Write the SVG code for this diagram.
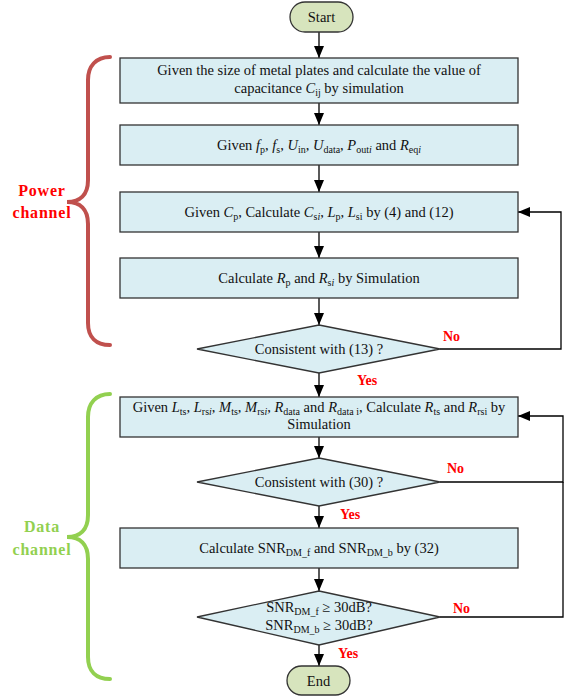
<svg xmlns="http://www.w3.org/2000/svg" width="565" height="696" viewBox="0 0 565 696">
<style>
.box{fill:#DAEEF3;stroke:#333;stroke-width:1.3}
.term{fill:#D7E4BD;stroke:#333;stroke-width:1.3}
.t{font-family:"Liberation Serif","Times New Roman",serif;font-size:14.5px;fill:#111;text-anchor:middle}
.s{font-size:10px}
.i{font-style:italic}
.lab{font-family:"Liberation Serif","Times New Roman",serif;font-size:14px;font-weight:bold;fill:#FF0000}
.ch{font-family:"Liberation Serif","Times New Roman",serif;font-size:16px;font-weight:bold;text-anchor:middle;letter-spacing:0.8px}
.conn{fill:none;stroke:#000;stroke-width:1.3}
</style>
<defs>
<marker id="ah" viewBox="0 0 12 10" refX="12" refY="5" markerWidth="12" markerHeight="10" markerUnits="userSpaceOnUse" orient="auto">
<path d="M0,0 L12,5 L0,10 z" fill="#000"/>
</marker>
</defs>

<g id="connectors">
<line class="conn" x1="319" y1="32" x2="319" y2="58" marker-end="url(#ah)"/>
<line class="conn" x1="319" y1="103" x2="319" y2="125" marker-end="url(#ah)"/>
<line class="conn" x1="319" y1="165" x2="319" y2="192" marker-end="url(#ah)"/>
<line class="conn" x1="319" y1="232" x2="319" y2="258" marker-end="url(#ah)"/>
<line class="conn" x1="319" y1="298" x2="319" y2="325" marker-end="url(#ah)"/>
<line class="conn" x1="319" y1="373" x2="319" y2="397" marker-end="url(#ah)"/>
<line class="conn" x1="319" y1="437" x2="319" y2="458" marker-end="url(#ah)"/>
<line class="conn" x1="319" y1="506" x2="319" y2="528" marker-end="url(#ah)"/>
<line class="conn" x1="319" y1="568" x2="319" y2="591" marker-end="url(#ah)"/>
<line class="conn" x1="319" y1="645" x2="319" y2="666" marker-end="url(#ah)"/>
<path class="conn" d="M440,349 H561 V212 H518" marker-end="url(#ah)"/>
<path class="conn" d="M440,482 H563 V416 H518" marker-end="url(#ah)"/>
<path class="conn" d="M440,617 H563 V482"/>
</g>

<g id="start">
<rect class="term" x="290" y="2" width="63" height="30" rx="15"/>
<text class="t" x="321.5" y="22">Start</text>
</g>

<g id="box1">
<rect class="box" x="120" y="58" width="398" height="45"/>
<text class="t" x="319" y="75">Given the size of metal plates and calculate the value of</text>
<text class="t" x="319" y="93">capacitance <tspan class="i">C</tspan><tspan class="s" dy="3">ij</tspan><tspan dy="-3"> by simulation</tspan></text>
</g>

<g id="box2">
<rect class="box" x="120" y="125" width="398" height="40"/>
<text class="t" x="319" y="150">Given <tspan class="i">f</tspan><tspan class="s" dy="3">p</tspan><tspan dy="-3">, </tspan><tspan class="i">f</tspan><tspan class="s" dy="3">s</tspan><tspan dy="-3">, </tspan><tspan class="i">U</tspan><tspan class="s" dy="3">in</tspan><tspan dy="-3">, </tspan><tspan class="i">U</tspan><tspan class="s" dy="3">data</tspan><tspan dy="-3">, </tspan><tspan class="i">P</tspan><tspan class="s" dy="3">out<tspan class="i">i</tspan></tspan><tspan dy="-3"> and </tspan><tspan class="i">R</tspan><tspan class="s" dy="3">eq<tspan class="i">i</tspan></tspan></text>
</g>

<g id="box3">
<rect class="box" x="120" y="192" width="398" height="40"/>
<text class="t" x="319" y="217">Given <tspan class="i">C</tspan><tspan class="s" dy="3">p</tspan><tspan dy="-3">, Calculate </tspan><tspan class="i">C</tspan><tspan class="s" dy="3">s<tspan class="i">i</tspan></tspan><tspan dy="-3">, </tspan><tspan class="i">L</tspan><tspan class="s" dy="3">p</tspan><tspan dy="-3">, </tspan><tspan class="i">L</tspan><tspan class="s" dy="3">si</tspan><tspan dy="-3"> by (4) and (12)</tspan></text>
</g>

<g id="box4">
<rect class="box" x="120" y="258" width="398" height="40"/>
<text class="t" x="319" y="283">Calculate <tspan class="i">R</tspan><tspan class="s" dy="3">p</tspan><tspan dy="-3"> and </tspan><tspan class="i">R</tspan><tspan class="s" dy="3">s<tspan class="i">i</tspan></tspan><tspan dy="-3"> by Simulation</tspan></text>
</g>

<g id="dec1">
<polygon class="box" points="319,325 440,349 319,373 197,349"/>
<text class="t" x="319" y="354">Consistent with (13) ?</text>
</g>

<g id="box5">
<rect class="box" x="120" y="397" width="398" height="40"/>
<text class="t" x="319" y="412">Given <tspan class="i">L</tspan><tspan class="s" dy="3">ts</tspan><tspan dy="-3">, </tspan><tspan class="i">L</tspan><tspan class="s" dy="3">rs<tspan class="i">i</tspan></tspan><tspan dy="-3">, </tspan><tspan class="i">M</tspan><tspan class="s" dy="3">ts</tspan><tspan dy="-3">, </tspan><tspan class="i">M</tspan><tspan class="s" dy="3">rs<tspan class="i">i</tspan></tspan><tspan dy="-3">, </tspan><tspan class="i">R</tspan><tspan class="s" dy="3">data</tspan><tspan dy="-3"> and </tspan><tspan class="i">R</tspan><tspan class="s" dy="3">data i</tspan><tspan dy="-3">, Calculate </tspan><tspan class="i">R</tspan><tspan class="s" dy="3">ts</tspan><tspan dy="-3"> and </tspan><tspan class="i">R</tspan><tspan class="s" dy="3">rsi</tspan><tspan dy="-3"> by</tspan></text>
<text class="t" x="319" y="429">Simulation</text>
</g>

<g id="dec2">
<polygon class="box" points="319,458 440,482 319,506 197,482"/>
<text class="t" x="319" y="487">Consistent with (30) ?</text>
</g>

<g id="box6">
<rect class="box" x="120" y="528" width="398" height="40"/>
<text class="t" x="319" y="553">Calculate SNR<tspan class="s" dy="3">DM_f</tspan><tspan dy="-3"> and SNR</tspan><tspan class="s" dy="3">DM_b</tspan><tspan dy="-3"> by (32)</tspan></text>
</g>

<g id="dec3">
<polygon class="box" points="319,591 440,617 319,645 197,617"/>
<text class="t" x="319" y="612">SNR<tspan class="s" dy="3">DM_f</tspan><tspan dy="-3"> ≥ 30dB?</tspan></text>
<text class="t" x="319" y="630">SNR<tspan class="s" dy="3">DM_b</tspan><tspan dy="-3"> ≥ 30dB?</tspan></text>
</g>

<g id="end">
<rect class="term" x="287" y="666" width="63" height="29" rx="14.5"/>
<text class="t" x="318.5" y="686">End</text>
</g>

<g id="labels">
<text class="lab" x="443" y="341">No</text>
<text class="lab" x="357" y="385">Yes</text>
<text class="lab" x="447" y="473">No</text>
<text class="lab" x="340" y="519">Yes</text>
<text class="lab" x="453" y="613">No</text>
<text class="lab" x="338" y="658">Yes</text>
</g>

<g id="power-brace">
<path d="M110,57 C96,57 88,66 88,80 V180 C88,195 80,202 67,202 C80,202 88,209 88,224 V323 C88,337 96,345 110,345" fill="none" stroke="#C0504D" stroke-width="4" stroke-linecap="round"/>
<text class="ch" x="42" y="196" fill="#FF0000">Power</text>
<text class="ch" x="42" y="218" fill="#FF0000">channel</text>
</g>

<g id="data-brace">
<path d="M110,394 C96,394 88,403 88,417 V515 C88,530 80,537 67,537 C80,537 88,544 88,559 V657 C88,671 96,679 110,679" fill="none" stroke="#92D050" stroke-width="4" stroke-linecap="round"/>
<text class="ch" x="42" y="532" fill="#92D050">Data</text>
<text class="ch" x="42" y="555" fill="#92D050">channel</text>
</g>
</svg>
